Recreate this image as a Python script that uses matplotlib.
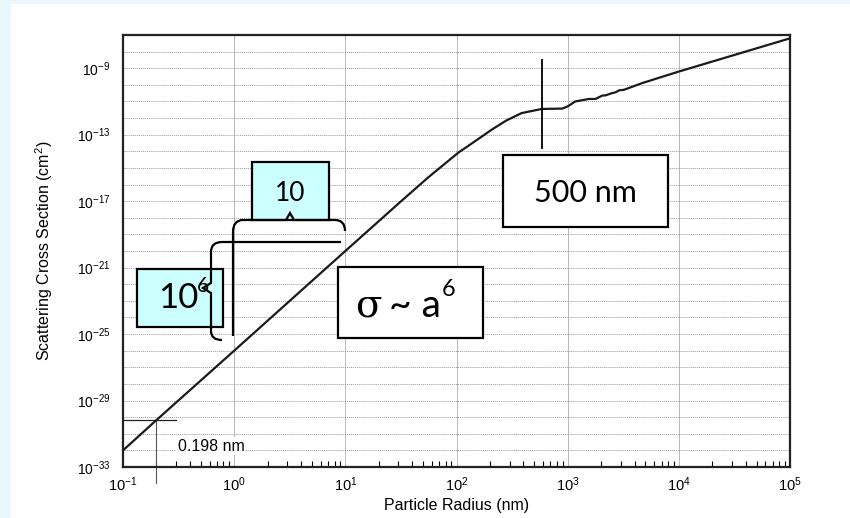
import numpy as np
import matplotlib
matplotlib.use("Agg")
import matplotlib.pyplot as plt
from matplotlib.patches import Rectangle, PathPatch
from matplotlib.path import Path

plt.rcParams['font.family'] = ['Liberation Sans', 'DejaVu Sans']
plt.rcParams['mathtext.fontset'] = 'custom'
plt.rcParams['mathtext.rm'] = 'Liberation Sans'
plt.rcParams['mathtext.it'] = 'Liberation Sans'
plt.rcParams['axes.unicode_minus'] = False

# curve (radius in nm, cross section in cm^2)
radius_nm = [0.1, 0.198, 1, 10, 30, 55, 103, 150, 207, 280, 385, 585, 890,
             1000, 1170, 1550, 1780, 2040, 2200, 2500, 2700, 2900, 3200,
             3550, 4700, 10000, 100000]
cross_section = [1e-32, 10**-30.2, 1e-26, 1e-20, 10**-17.15, 10**-15.6,
                 10**-14.1, 10**-13.35, 10**-12.7, 10**-12.15, 10**-11.7,
                 10**-11.45, 10**-11.43, 10**-11.3, 10**-11.0, 10**-10.85,
                 10**-10.85, 10**-10.65, 10**-10.63, 10**-10.5, 10**-10.45,
                 10**-10.33, 10**-10.3, 10**-10.19, 10**-9.89, 10**-9.2,
                 10**-7.2]

x_exponents = [-1, 0, 1, 2, 3, 4, 5]
y_exponents = list(range(-33, -6))
y_label_exponents = [-33, -29, -25, -21, -17, -13, -9]

rayleigh_radius = 0.198
mie_radius = 585

W, H = 850, 518
fig = plt.figure(figsize=(W / 100, H / 100), dpi=100, facecolor='white')


def px(x, y):
    # pixel position -> figure fraction
    return x / W, 1 - y / H


# light blue frame on the left/top
fig.patches.append(Rectangle((0, 0), 11 / W, 1, transform=fig.transFigure,
                             facecolor='#eaf7fc', edgecolor='none', zorder=0))
fig.patches.append(Rectangle((0, 1 - 4 / H), 1, 4 / H, transform=fig.transFigure,
                             facecolor='#eaf7fc', edgecolor='none', zorder=0))

ax = fig.add_axes([123 / W, 51 / H, 667 / W, 432 / H])
ax.set_xscale('log')
ax.set_yscale('log')
ax.set_xlim(1e-1, 1e5)
ax.set_ylim(1e-33, 1e-7)

ax.plot(radius_nm, cross_section, color='#1a1a1a', lw=1.6, zorder=3)

ax.set_xticks([10.0 ** e for e in x_exponents])
ax.set_xticklabels([r'$10^{%d}$' % e for e in x_exponents], fontsize=10.5)
ax.set_yticks([10.0 ** e for e in y_exponents])
ax.set_yticklabels([r'$10^{%d}$' % e if e in y_label_exponents else ''
                    for e in y_exponents], fontsize=10)
ax.yaxis.set_minor_locator(matplotlib.ticker.NullLocator())
ax.tick_params(axis='y', length=0, pad=9)
ax.tick_params(axis='x', which='major', direction='in', length=0, pad=6)
ax.tick_params(axis='x', which='minor', direction='in', length=4, width=0.8,
               bottom=True, top=False)

ax.grid(True, axis='y', which='major', linestyle=(0, (1, 1)), color='#9a9a9a', lw=0.7)
ax.grid(True, axis='x', which='major', linestyle='-', color='#b8b8b8', lw=0.7)
for s in ax.spines.values():
    s.set_linewidth(1.6)
    s.set_color('#222222')

ax.set_xlabel('Particle Radius (nm)', fontsize=11.5, labelpad=3)
ax.set_ylabel(r'Scattering Cross Section (cm$^{2}$)', fontsize=11.5, labelpad=16)

# 0.198 nm marker
y_r = np.interp(np.log10(rayleigh_radius), np.log10(radius_nm), np.log10(cross_section))
ax.plot([1e-1, 0.30], [10 ** y_r] * 2, color='#222222', lw=0.9, zorder=2)
ax.plot([rayleigh_radius] * 2, [10 ** y_r, 10 ** -33.95], color='#555555',
        lw=0.8, clip_on=False, zorder=2)
ax.text(0.31, 10 ** -31.75, '0.198 nm', fontsize=11.5, va='center', ha='left',
        bbox=dict(facecolor='white', edgecolor='none', pad=1))

# 500 nm marker
ax.plot([mie_radius] * 2, [10 ** -8.5, 10 ** -13.8], color='#111111', lw=1.4, zorder=4)

box_font = ['Lato', 'DejaVu Sans']


def box(x0, y0, x1, y1, fc):
    (fx0, fy0), (fx1, fy1) = px(x0, y1), px(x1, y0)
    fig.patches.append(Rectangle((fx0, fy0), fx1 - fx0, fy1 - fy0,
                                 transform=fig.transFigure, facecolor=fc,
                                 edgecolor='black', lw=1.6, zorder=5))
    return (fx0 + fx1) / 2, (fy0 + fy1) / 2


cx, cy = box(503, 155, 668, 227, 'white')
fig.text(cx, cy - 0.004, '500 nm', family=box_font, fontsize=22, ha='center', va='center', zorder=6)

cx, cy = box(252, 162, 329, 220, '#ccffff')
fig.text(cx, cy - 0.004, '10', family=box_font, fontsize=19, ha='center', va='center', zorder=6)

box(137, 269, 223, 327, '#ccffff')
tx, ty = px(158, 308)
fig.text(tx, ty, '10', family=box_font, fontsize=25, ha='left', va='baseline', zorder=6)
tx, ty = px(197, 292)
fig.text(tx, ty, '6', family=box_font, fontsize=15, ha='left', va='baseline', zorder=6)

cx, cy = box(338, 267, 483, 338, 'white')
fig.text(cx - 0.065, cy - 0.006, 'σ', family=['DejaVu Serif'], fontsize=28, ha='left', va='center', zorder=6)
fig.text(cx - 0.025, cy - 0.006, '~ a', family=box_font, fontsize=28, ha='left', va='center', zorder=6)
fig.text(cx + 0.037, cy + 0.025, '6', family=box_font, fontsize=17, ha='left', va='center', zorder=6)


def bracket(verts, codes):
    pts = [px(x, y) for x, y in verts]
    fig.patches.append(PathPatch(Path(pts, codes), transform=fig.transFigure,
                                 facecolor='none', edgecolor='black', lw=1.6, zorder=7))


M, L, C = Path.MOVETO, Path.LINETO, Path.CURVE3
# top brace (over one decade in radius)
bracket([(233, 232), (233, 220), (243, 220), (286, 220), (290, 213), (294, 220),
         (335, 220), (345, 220), (345, 231)],
        [M, C, C, L, L, L, L, C, C])
# vertical guide
bracket([(233, 232), (233, 336)], [M, L])
# horizontal guide
bracket([(222, 242), (341, 242)], [M, L])
# left brace (six decades in cross section)
bracket([(222, 242), (211, 242), (211, 252), (211, 283), (203, 288), (211, 293),
         (211, 331), (211, 340), (222, 340)],
        [M, C, C, L, L, L, L, C, C])

fig.savefig('out.png', dpi=100, facecolor=fig.get_facecolor())
